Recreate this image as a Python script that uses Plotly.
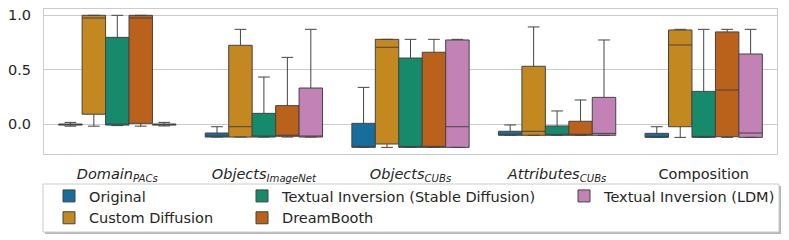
import plotly.graph_objects as go

categories = ["Domain_PACs", "Objects_ImageNet", "Objects_CUBs", "Attributes_CUBs", "Composition"]
category_labels = ["<i>Domain<sub>PACs</sub></i>", "<i>Objects<sub>ImageNet</sub></i>",
                   "<i>Objects<sub>CUBs</sub></i>", "<i>Attributes<sub>CUBs</sub></i>", "Composition"]

methods = ["Original", "Custom Diffusion", "Textual Inversion (Stable Diffusion)",
           "DreamBooth", "Textual Inversion (LDM)"]

# box statistics per method, one value per category
lowerfence = {
    "Original": [-0.02, -0.12, -0.215, -0.104, -0.123],
    "Custom Diffusion": [-0.02, -0.12, -0.215, -0.104, -0.123],
    "Textual Inversion (Stable Diffusion)": [-0.015, -0.12, -0.215, -0.104, -0.123],
    "DreamBooth": [-0.02, -0.12, -0.215, -0.104, -0.123],
    "Textual Inversion (LDM)": [-0.018, -0.12, -0.215, -0.104, -0.123],
}
q1 = {
    "Original": [-0.01, -0.12, -0.215, -0.104, -0.123],
    "Custom Diffusion": [0.09, -0.12, -0.184, -0.104, -0.025],
    "Textual Inversion (Stable Diffusion)": [-0.01, -0.12, -0.215, -0.104, -0.123],
    "DreamBooth": [0.006, -0.113, -0.215, -0.104, -0.117],
    "Textual Inversion (LDM)": [-0.01, -0.12, -0.215, -0.104, -0.123],
}
median = {
    "Original": [-0.005, -0.115, -0.21, -0.1, -0.12],
    "Custom Diffusion": [0.975, -0.025, 0.706, -0.067, 0.727],
    "Textual Inversion (Stable Diffusion)": [-0.005, -0.118, -0.212, -0.1, -0.118],
    "DreamBooth": [0.975, -0.11, -0.212, -0.1, 0.313],
    "Textual Inversion (LDM)": [-0.005, -0.115, -0.025, -0.086, -0.083],
}
q3 = {
    "Original": [0.0, -0.083, 0.006, -0.067, -0.086],
    "Custom Diffusion": [1.0, 0.724, 0.779, 0.531, 0.865],
    "Textual Inversion (Stable Diffusion)": [0.797, 0.098, 0.607, -0.018, 0.3],
    "DreamBooth": [1.0, 0.169, 0.66, 0.025, 0.847],
    "Textual Inversion (LDM)": [0.0, 0.331, 0.773, 0.245, 0.644],
}
upperfence = {
    "Original": [0.015, -0.025, 0.337, -0.009, -0.025],
    "Custom Diffusion": [1.0, 0.871, 0.779, 0.893, 0.871],
    "Textual Inversion (Stable Diffusion)": [1.0, 0.432, 0.779, 0.12, 0.871],
    "DreamBooth": [1.0, 0.613, 0.779, 0.221, 0.871],
    "Textual Inversion (LDM)": [0.015, 0.871, 0.779, 0.773, 0.871],
}

colors = {
    "Original": "#176d9c",
    "Custom Diffusion": "#c38820",
    "Textual Inversion (Stable Diffusion)": "#168a6a",
    "DreamBooth": "#ba611b",
    "Textual Inversion (LDM)": "#c282b5",
}
legend_of = {
    "Original": "legend",
    "Custom Diffusion": "legend",
    "Textual Inversion (Stable Diffusion)": "legend2",
    "DreamBooth": "legend2",
    "Textual Inversion (LDM)": "legend3",
}

FONT = "DejaVu Sans"
FS = 14.5
fig = go.Figure()
for m in methods:
    fig.add_trace(go.Box(
        name=m,
        x=categories,
        lowerfence=lowerfence[m], q1=q1[m], median=median[m], q3=q3[m], upperfence=upperfence[m],
        fillcolor=colors[m],
        line=dict(color="#444444", width=1),
        whiskerwidth=0.5,
        boxpoints=False,
        legend=legend_of[m],
    ))

leg_common = dict(orientation="v", yanchor="top", y=(154 - 180) / 145, xanchor="left",
                  font=dict(family=FONT, size=FS, color="#262626"),
                  bgcolor="rgba(0,0,0,0)", borderwidth=0, tracegroupgap=0,
                  itemwidth=30)


def px_x(p):
    return (p - 44) / 733


def px_y(p):
    return (154 - p) / 145


fig.update_layout(
    width=789, height=240,
    margin=dict(l=44, r=12, t=9, b=86, autoexpand=False),
    plot_bgcolor="white", paper_bgcolor="white",
    font=dict(family=FONT, size=FS, color="#262626"),
    boxmode="group", boxgap=0.2, boxgroupgap=0,
    legend=dict(x=px_x(49), **leg_common),
    legend2=dict(x=px_x(242), **leg_common),
    legend3=dict(x=px_x(564), **leg_common),
    xaxis=dict(
        tickmode="array", tickvals=categories, ticktext=category_labels,
        showgrid=False, showline=True, mirror=True, linecolor="#cccccc", linewidth=1.25,
        ticks="", ticklabelstandoff=6, tickfont=dict(family=FONT, size=FS, color="#262626"),
    ),
    yaxis=dict(
        range=[-0.276, 1.058], tickvals=[0.0, 0.5, 1.0], ticktext=["0.0", "0.5", "1.0"],
        showgrid=True, gridcolor="#cccccc", gridwidth=1, zeroline=False,
        showline=True, mirror=True, linecolor="#cccccc", linewidth=1.25,
        ticks="", ticklabelstandoff=9, tickfont=dict(family=FONT, size=FS, color="#262626"),
    ),
    shapes=[
        # legend frame shadow
        dict(type="rect", xref="paper", yref="paper",
             x0=px_x(45), x1=px_x(781), y0=px_y(234), y1=px_y(186),
             line=dict(width=0), fillcolor="#b5b5b5", layer="below"),
        # legend frame
        dict(type="rect", xref="paper", yref="paper",
             x0=px_x(43), x1=px_x(779), y0=px_y(232), y1=px_y(184),
             line=dict(color="#cccccc", width=1), fillcolor="white", layer="below"),
    ],
)

fig.write_html("out.html", post_script="document.body.style.margin='0';",
               config={"displayModeBar": False})
